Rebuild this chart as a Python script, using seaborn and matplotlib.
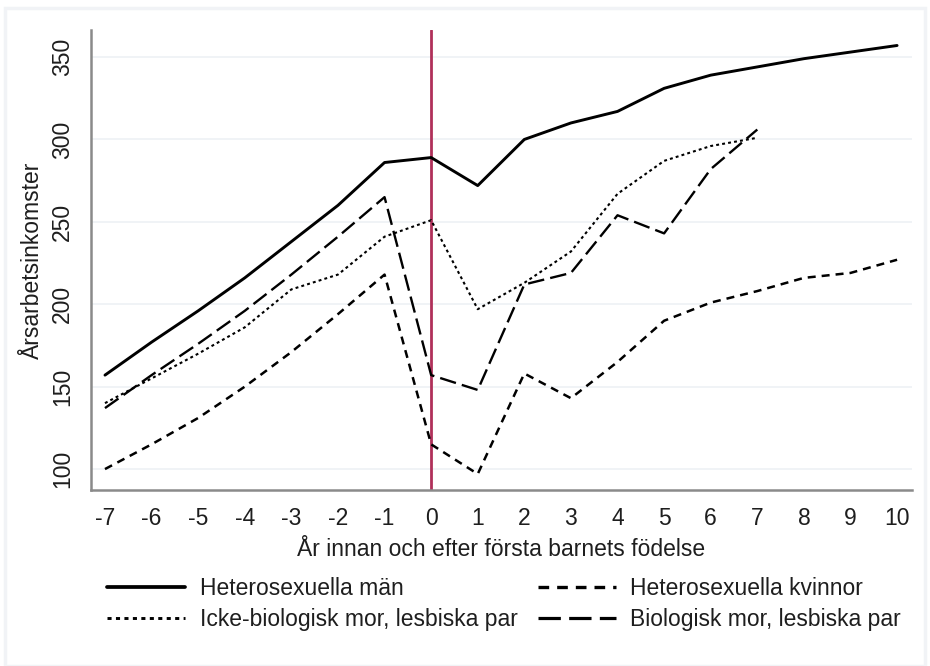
import numpy as np
import pandas as pd
import matplotlib
matplotlib.use("Agg")
import matplotlib.pyplot as plt
import seaborn as sns
from matplotlib.lines import Line2D
from matplotlib.patches import Rectangle

years = list(range(-7, 11))
het_man = [157, 177, 196, 216, 238, 260, 286, 289, 272, 300, 310, 317, 331, 339, 344, 349, 353, 357]
het_kvinna = [100, 115, 131, 150, 171, 194, 218, 115, 97, 158, 143, 165, 190, 201, 208, 216, 219, 227]
years_lesb = list(range(-7, 8))
icke_bio = [140, 155, 170, 186, 209, 218, 241, 251, 197, 213, 232, 267, 287, 296, 301]
bio_mor = [137, 157, 176, 196, 218, 241, 265, 157, 148, 212, 219, 254, 243, 282, 306]

labels = ["Heterosexuella män", "Heterosexuella kvinnor",
          "Icke-biologisk mor, lesbiska par", "Biologisk mor, lesbiska par"]
xlabel = "År innan och efter första barnets födelse"
ylabel = "Årsarbetsinkomster"
yticks = [100, 150, 200, 250, 300, 350]

frames = [
    pd.DataFrame({"år": years, "inkomst": het_man, "grupp": labels[0]}),
    pd.DataFrame({"år": years, "inkomst": het_kvinna, "grupp": labels[1]}),
    pd.DataFrame({"år": years_lesb, "inkomst": icke_bio, "grupp": labels[2]}),
    pd.DataFrame({"år": years_lesb, "inkomst": bio_mor, "grupp": labels[3]}),
]
df = pd.concat(frames, ignore_index=True)

sns.set_style("white")
plt.rcParams['font.family'] = ['Liberation Sans', 'DejaVu Sans']

FS = 16.5
TXT = "#1e1e1e"

fig = plt.figure(figsize=(9.3, 6.66), dpi=100)
fig.patch.set_facecolor("white")
# faint outer frame
fig.add_artist(Rectangle((5/930, 0), 920/930, 1 - 8/666, transform=fig.transFigure,
                         fill=False, edgecolor="#f1f3f6", lw=2.5))

ax = fig.add_axes([91/930, 1 - 490/666, (912 - 91)/930, (490 - 30)/666])

lw_map = {labels[0]: 2.1, labels[1]: 1.8, labels[2]: 1.5, labels[3]: 1.7}
dash_map = {labels[0]: "", labels[1]: (3.2, 2.4), labels[2]: (1.4, 1.5), labels[3]: (7, 2.6)}

for lab in labels:
    sub = df[df["grupp"] == lab]
    sns.lineplot(data=sub, x="år", y="inkomst", ax=ax, color="black",
                 lw=lw_map[lab], dashes=False, legend=False)
    line = ax.lines[-1]
    if dash_map[lab]:
        line.set_dashes(dash_map[lab])

ax.axvline(0, color="#b0305a", lw=2.0, zorder=1)

ax.set_xlim(-7.3, 10.32)
ax.set_ylim(87.3, 366.4)
ax.set_xticks(years)
ax.set_xticklabels([str(y) for y in years], fontsize=FS)
ax.set_yticks(yticks)
ax.set_yticklabels([str(y) for y in yticks], fontsize=FS, rotation=90, va="center")
for y in yticks:
    ax.axhline(y, color="#eef1f5", lw=1.2, zorder=0)

for s in ["top", "right"]:
    ax.spines[s].set_visible(False)
for s in ["left", "bottom"]:
    ax.spines[s].set_color("#8a8a8a")
    ax.spines[s].set_linewidth(1.8)
ax.tick_params(axis="both", direction="out", length=7, width=1.3, color="#8a8a8a",
               pad=5, labelcolor=TXT)

ax.set_xlabel(xlabel, fontsize=FS, color=TXT, labelpad=6)
ax.set_ylabel(ylabel, fontsize=FS, color=TXT, labelpad=5)

handles = []
order = [0, 2, 1, 3]
for i in order:
    lab = labels[i]
    h = Line2D([0], [0], color="black", lw=lw_map[lab] + 0.6)
    if dash_map[lab]:
        h.set_dashes(dash_map[lab])
    handles.append(h)
fig.legend(handles, [labels[i] for i in order], ncol=2, frameon=False,
           loc="upper left", bbox_to_anchor=(96/930, 1 - 566/666),
           fontsize=FS, handlelength=3.4, handletextpad=0.65,
           columnspacing=0.85, labelspacing=0.35, borderpad=0,
           labelcolor=TXT)

fig.savefig("out.png", dpi=100, facecolor="white")
